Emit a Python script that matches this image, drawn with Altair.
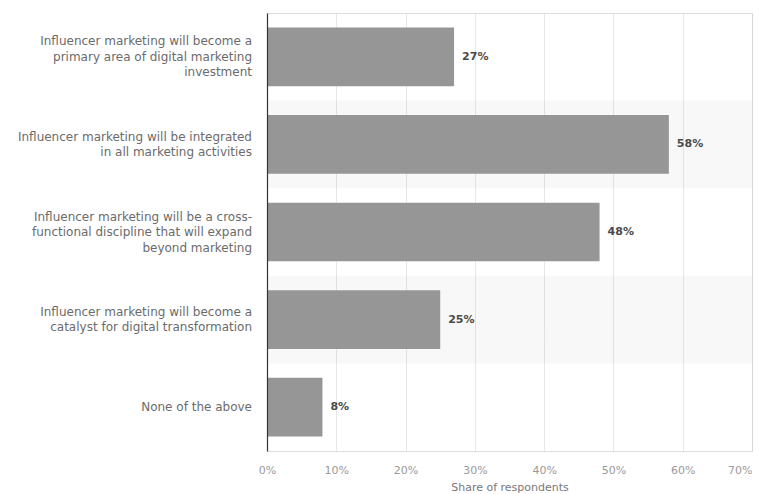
import altair as alt
import pandas as pd

categories = [
    "Influencer marketing will become a\nprimary area of digital marketing\ninvestment",
    "Influencer marketing will be integrated\nin all marketing activities",
    "Influencer marketing will be a cross-\nfunctional discipline that will expand\nbeyond marketing",
    "Influencer marketing will become a\ncatalyst for digital transformation",
    "None of the above",
]
values = [27, 58, 48, 25, 8]
labels = ["27%", "58%", "48%", "25%", "8%"]
stripe = [False, True, False, True, False]
ticks = [0, 10, 20, 30, 40, 50, 60, 70]

df = pd.DataFrame({"cat": categories, "val": values, "lab": labels, "stripe": stripe})
df["x0"] = 0
df["xmax"] = 70
df["nlines"] = [c.count("\n") + 1 for c in categories]

FONT = "DejaVu Sans"
LH = 15.5

y_scale = alt.Scale(paddingInner=0, paddingOuter=0)
y_enc = alt.Y(
    "cat:N",
    sort=categories,
    scale=y_scale,
    axis=alt.Axis(
        title=None,
        labels=False,
        ticks=False,
        domainColor="#333333",
        domainWidth=1.2,
        grid=False,
        zindex=1,
    ),
)

x_scale = alt.Scale(domain=[0, 70], nice=False)

stripes = alt.Chart(df).transform_filter("datum.stripe").mark_bar(
    color="#000000", opacity=0.028, height=alt.RelativeBandSize(1.0)
).encode(
    y=y_enc,
    x=alt.X("x0:Q", scale=x_scale),
    x2="xmax:Q",
)

bars = alt.Chart(df).mark_bar(
    color="#969696", height=alt.RelativeBandSize(0.67)
).encode(
    y=alt.Y("cat:N", sort=categories),
    x=alt.X(
        "val:Q",
        scale=x_scale,
        axis=alt.Axis(
            title="Share of respondents",
            values=ticks,
            labelExpr="datum.value + '%'",
            labelAlign=alt.condition("datum.value == 70", alt.value("right"), alt.value("center")),
            labelColor="#9a9a9a",
            labelFontSize=11,
            labelFont=FONT,
            labelPadding=13,
            titleColor="#777777",
            titleFontSize=11,
            titleFont=FONT,
            titleFontWeight="normal",
            titlePadding=6,
            ticks=False,
            domain=False,
            grid=True,
            gridColor="#cfcfcf",
            gridDash=[1, 1],
            gridWidth=1,
        ),
    ),
)

text = alt.Chart(df).mark_text(
    align="left", baseline="middle", dx=8, fontWeight="bold",
    fontSize=11, font=FONT, color="#4a4a4a"
).encode(
    y=alt.Y("cat:N", sort=categories),
    x=alt.X("val:Q", scale=x_scale),
    text="lab:N",
)

cat_layers = []
for n in [1, 2, 3]:
    cat_layers.append(
        alt.Chart(df).transform_filter(f"datum.nlines == {n}").mark_text(
            align="right", baseline="middle", lineBreak="\n", lineHeight=LH,
            fontSize=12, font=FONT, color="#6b6b6b", dy=-(n - 1) * LH / 2,
        ).encode(
            y=alt.Y("cat:N", sort=categories),
            x=alt.value(-15),
            text="cat:N",
        )
    )

chart = alt.layer(stripes, bars, text, *cat_layers).properties(
    width=485,
    height=438,
    autosize=alt.AutoSizeParams(type="none"),
    padding={"left": 267, "top": 13, "right": 23, "bottom": 43},
).configure_view(stroke=None).configure(background="white")

chart.save("out.html", embed_options={"renderer": "svg", "actions": False})
